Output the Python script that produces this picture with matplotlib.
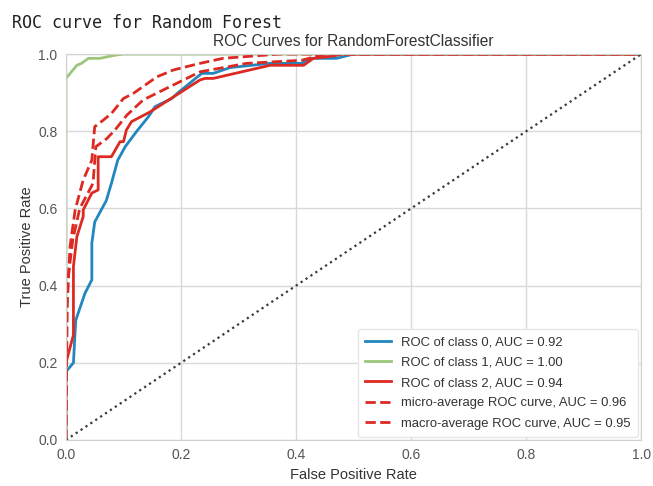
import matplotlib.pyplot as plt

# fpr / tpr points
fpr_0 = [0.0, 0.013, 0.017, 0.033, 0.045, 0.045, 0.05, 0.07, 0.079, 0.09, 0.103, 0.123, 0.143,
         0.155, 0.184, 0.195, 0.236, 0.256, 0.285, 0.355, 0.41, 0.424, 0.47, 0.5, 1.0]
tpr_0 = [0.177, 0.2, 0.31, 0.38, 0.415, 0.51, 0.565, 0.62, 0.665, 0.725, 0.76, 0.80, 0.837,
         0.864, 0.885, 0.90, 0.95, 0.95, 0.965, 0.976, 0.976, 0.989, 0.989, 1.0, 1.0]

fpr_1 = [0.0, 0.0, 0.019, 0.027, 0.039, 0.059, 0.085, 0.1, 1.0]
tpr_1 = [0.0, 0.937, 0.971, 0.976, 0.989, 0.989, 0.997, 1.0, 1.0]

fpr_2 = [0.0, 0.0, 0.013, 0.013, 0.019, 0.03, 0.03, 0.045, 0.056, 0.056, 0.079, 0.094, 0.1,
         0.105, 0.114, 0.146, 0.233, 0.242, 0.256, 0.355, 0.413, 0.43, 0.465, 0.48, 1.0]
tpr_2 = [0.0, 0.2, 0.272, 0.45, 0.527, 0.579, 0.596, 0.64, 0.648, 0.734, 0.734, 0.773, 0.773,
         0.803, 0.825, 0.85, 0.933, 0.937, 0.937, 0.971, 0.971, 0.989, 0.995, 1.0, 1.0]

fpr_micro = [0.0, 0.002, 0.007, 0.016, 0.03, 0.045, 0.05, 0.065, 0.079, 0.1, 0.117, 0.158,
             0.187, 0.233, 0.273, 0.37, 1.0]
tpr_micro = [0.0, 0.342, 0.5, 0.596, 0.674, 0.725, 0.812, 0.829, 0.846, 0.885, 0.898, 0.941,
             0.959, 0.976, 0.989, 1.0, 1.0]

fpr_macro = [0.0, 0.002, 0.012, 0.024, 0.047, 0.052, 0.071, 0.085, 0.106, 0.134, 0.169,
             0.233, 0.314, 0.41, 0.45, 1.0]
tpr_macro = [0.0, 0.40, 0.52, 0.60, 0.665, 0.76, 0.781, 0.803, 0.842, 0.881, 0.907,
             0.954, 0.976, 0.984, 1.0, 1.0]

labels = ['ROC of class 0, AUC = 0.92',
          'ROC of class 1, AUC = 1.00',
          'ROC of class 2, AUC = 0.94',
          'micro-average ROC curve, AUC = 0.96',
          'macro-average ROC curve, AUC = 0.95']

plt.rcParams['font.family'] = ['Liberation Sans', 'DejaVu Sans']

fig = plt.figure(figsize=(6.53, 4.86), dpi=100)
ax = fig.add_axes([0.101, 0.0947, 0.881, 0.794])

blue = '#2286bf'
green = '#9cc77a'
red = '#dc2a22'

ax.plot(fpr_0, tpr_0, color=blue, lw=2, label=labels[0])
ax.plot(fpr_1, tpr_1, color=green, lw=2, label=labels[1])
ax.plot(fpr_2, tpr_2, color=red, lw=2, label=labels[2])
ax.plot(fpr_micro, tpr_micro, color=red, lw=2, ls='--', label=labels[3])
ax.plot(fpr_macro, tpr_macro, color=red, lw=2, ls='--', label=labels[4])
ax.plot([0, 1], [0, 1], color='#3a3a3a', ls=':', lw=1.6)

ax.set_xlim(0, 1)
ax.set_ylim(0, 1)
ax.set_xticks([0, 0.2, 0.4, 0.6, 0.8, 1.0])
ax.set_yticks([0, 0.2, 0.4, 0.6, 0.8, 1.0])
ax.grid(True, color='#d9d9d9', lw=1)
ax.set_axisbelow(True)
for s in ax.spines.values():
    s.set_color('#d0d0d0')
ax.tick_params(length=0, labelsize=10, labelcolor='#555555', pad=6)

ax.set_title('ROC Curves for RandomForestClassifier', fontsize=11.2, color='#333333', pad=6)
ax.set_xlabel('False Positive Rate', fontsize=10.5, color='#333333', labelpad=4)
ax.set_ylabel('True Positive Rate', fontsize=10.5, color='#333333', labelpad=3)

leg = ax.legend(loc='lower right', fontsize=9.4, frameon=True, framealpha=1,
                edgecolor='#e6e6e6', borderpad=0.55, labelspacing=0.62,
                handlelength=2.0, borderaxespad=0.25)
for t in leg.get_texts():
    t.set_color('#333333')

fig.text(0.018, 0.972, 'ROC curve for Random Forest', family='DejaVu Sans Mono',
         fontsize=12, color='#222222', va='top')

fig.savefig('out.png', dpi=100)
